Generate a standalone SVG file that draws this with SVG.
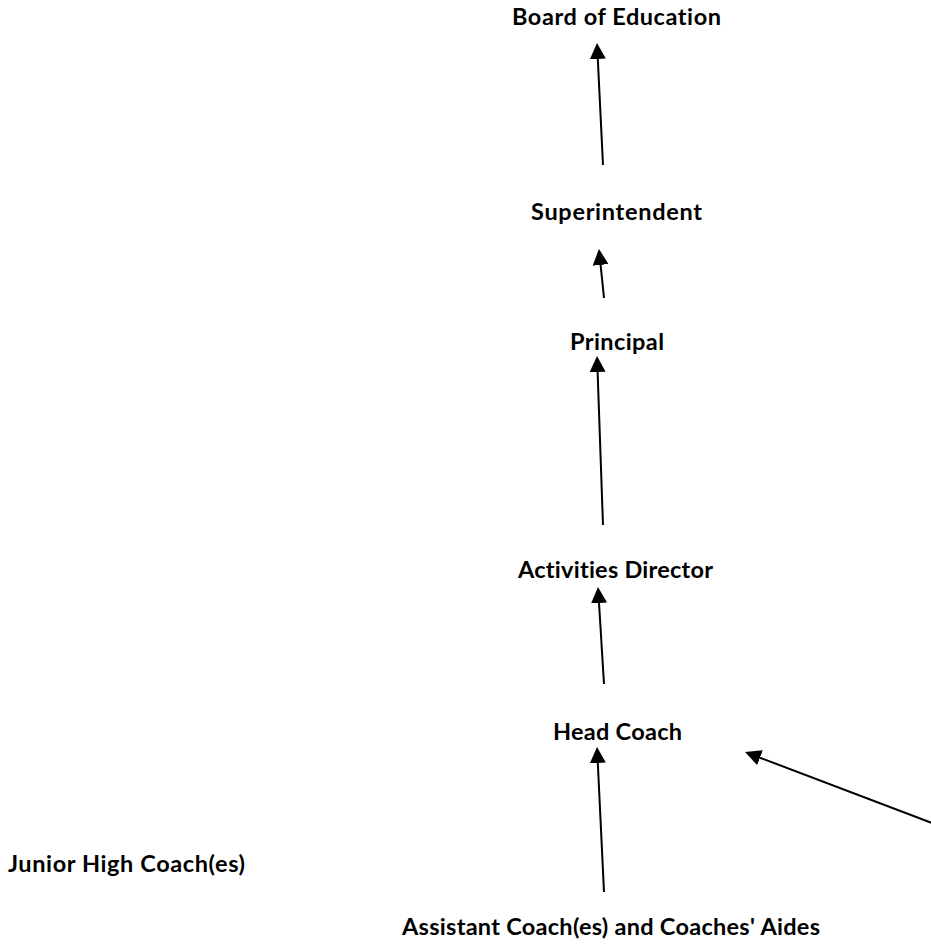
<svg xmlns="http://www.w3.org/2000/svg" width="931" height="945" viewBox="0 0 931 945">
<style>
  .lbl { font-family: Lato, "Open Sans", "Liberation Sans", sans-serif; font-weight: bold; font-size: 23.5px; fill: #000; font-variant-ligatures: none; }
  .arr { stroke: #000; stroke-width: 2; fill: none; marker-end: url(#ah); }
</style>
<defs>
  <marker id="ah" viewBox="0 0 10 10" refX="0" refY="5" markerWidth="8" markerHeight="8" markerUnits="strokeWidth" orient="auto">
    <path d="M0,0 L10,5 L0,10 z" fill="#000"/>
  </marker>
</defs>
<rect width="931" height="945" fill="#fff"/>
<g id="board"><text class="lbl" x="512" y="25" textLength="209">Board of Education</text></g>
<g id="superintendent"><text class="lbl" x="531" y="220" textLength="171">Superintendent</text></g>
<g id="principal"><text class="lbl" x="570" y="350" textLength="94">Principal</text></g>
<g id="activities"><text class="lbl" x="518" y="578" textLength="195">Activities Director</text></g>
<g id="headcoach"><text class="lbl" x="553" y="740" textLength="129">Head Coach</text></g>
<g id="juniorhigh"><text class="lbl" x="8" y="872" textLength="237">Junior High Coach(es)</text></g>
<g id="assistant"><text class="lbl" x="402" y="935" textLength="418">Assistant Coach(es) and Coaches' Aides</text></g>
<g id="connectors">
  <line class="arr" x1="603" y1="165" x2="597.8" y2="59"/>
  <line class="arr" x1="604" y1="298" x2="600.6" y2="264.9"/>
  <line class="arr" x1="603" y1="525" x2="597.6" y2="372"/>
  <line class="arr" x1="604" y1="684" x2="599" y2="603"/>
  <line class="arr" x1="604" y1="892" x2="597.8" y2="763"/>
  <line class="arr" x1="940" y1="826" x2="760" y2="757.7"/>
</g>
</svg>
